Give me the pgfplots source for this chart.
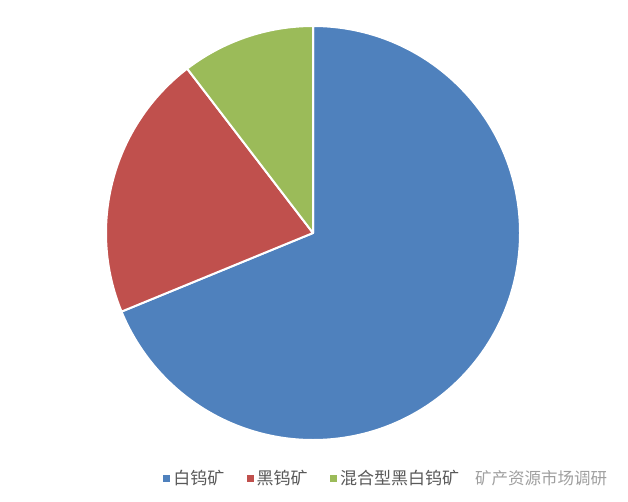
\documentclass[border=0pt]{standalone}
\usepackage{pgfplots}
\pgfplotsset{compat=1.18}
\usepackage{fontspec}
\newfontfamily\cjk{Noto Sans CJK SC}
\definecolor{cblue}{HTML}{4F81BD}
\definecolor{cred}{HTML}{C0504D}
\definecolor{cgreen}{HTML}{9BBB59}
\definecolor{ltext}{HTML}{595959}
\begin{document}
\begin{tikzpicture}
\begin{axis}[scale only axis, width=628pt, height=501pt,
  xmin=0, xmax=628, ymin=0, ymax=501, hide axis, clip=false,
  legend columns=-1,
  legend style={draw=none, fill=none, at={(axis cs:313,23)}, anchor=center,
    font=\cjk\fontsize{17}{17}\selectfont, text=ltext,
    nodes={inner xsep=3.5pt},
    /tikz/every even column/.append style={column sep=19pt}},
  legend cell align=left]
\path (axis cs:0,0) rectangle (axis cs:628,501);
\addlegendimage{legend image code/.code={\fill[cblue] (0pt,-3pt) rectangle (6pt,3pt);}}
\addlegendentry{白钨矿}
\addlegendimage{legend image code/.code={\fill[cred] (0pt,-3pt) rectangle (6pt,3pt);}}
\addlegendentry{黑钨矿}
\addlegendimage{legend image code/.code={\fill[cgreen] (0pt,-3pt) rectangle (6pt,3pt);}}
\addlegendentry{混合型黑白钨矿}
% data (percent)
\pgfmathsetmacro{\va}{68.8}
\pgfmathsetmacro{\vb}{20.8}
\pgfmathsetmacro{\vc}{10.4}
\pgfmathsetmacro{\aone}{90-3.6*\va}
\pgfmathsetmacro{\atwo}{\aone-3.6*\vb+360}
\pgfmathsetmacro{\athree}{\atwo-3.6*\vc}
\fill[cblue, draw=white, line width=2pt, line join=round] (axis cs:313,268) -- ++(90:207pt) arc[start angle=90, end angle=\aone, radius=207pt] -- cycle;
\fill[cred, draw=white, line width=2pt, line join=round] (axis cs:313,268) -- ++(\aone+360:207pt) arc[start angle=\aone+360, end angle=\atwo, radius=207pt] -- cycle;
\fill[cgreen, draw=white, line width=2pt, line join=round] (axis cs:313,268) -- ++(\atwo:207pt) arc[start angle=\atwo, end angle=\athree, radius=207pt] -- cycle;
\node[anchor=west, text=gray!75, font=\cjk\fontsize{16.5}{16.5}\selectfont, inner sep=0pt] at (axis cs:475,23) {矿产资源市场调研};
\end{axis}
\end{tikzpicture}
\end{document}
